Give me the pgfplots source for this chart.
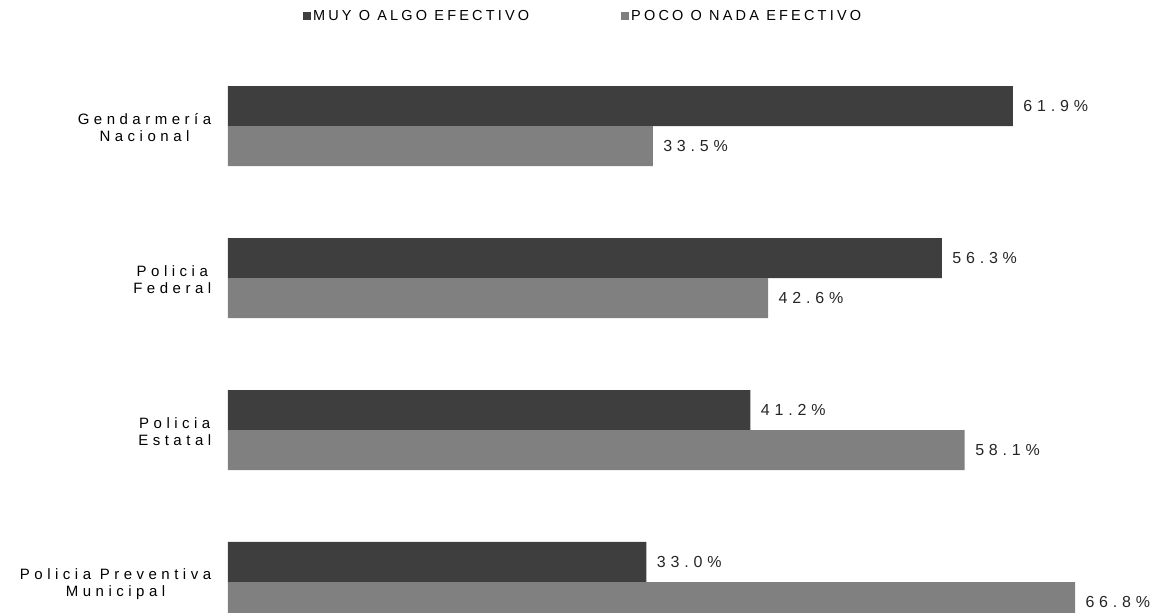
\documentclass[border=0pt]{standalone}
\usepackage{pgfplots}
\pgfplotsset{compat=1.18}
\usepackage{fontspec}
\setmainfont{Liberation Sans}
\newfontfamily\lblfont{Liberation Sans}[LetterSpace=30]
\newfontfamily\legfont{Liberation Sans}[LetterSpace=22]
\definecolor{darkbar}{HTML}{3E3E3E}
\definecolor{lightbar}{HTML}{808080}
\pgfplotstableread{
y muy poco
0 61.9 33.5
1 56.3 42.6
2 41.2 58.1
3 33.0 66.8
}\datatable
\begin{document}
\begin{tikzpicture}
\begin{axis}[
  scale only axis,
  width=942pt, height=613pt,
  xmin=0, xmax=74.29,
  ymin=-0.829, ymax=3.204,
  y dir=reverse,
  xbar, bar width=40pt,
  axis line style={draw=none},
  tick style={draw=none},
  xtick=\empty,
  ytick={0,1,2,3},
  yticklabels={{Gendarmería\\Nacional},{Policia\\Federal},{Policia\\Estatal},{Policia Preventiva\\Municipal}},
  yticklabel style={align=center, font=\fontsize{15}{17}\selectfont\lblfont, xshift=-9pt, yshift=-2pt},
  nodes near coords={\pgfmathprintnumber[fixed,fixed zerofill,precision=1]{\pgfplotspointmeta}\%},
  nodes near coords style={font=\fontsize{16}{18}\selectfont\lblfont, anchor=west, xshift=7pt, text=black!85},
  /pgf/number format/assume math mode=true,
  point meta=explicit,
  legend columns=2,
  legend style={draw=none, fill=none, at={(axis cs:5.9,-0.725)}, anchor=west,
    font=\fontsize{14.5}{16}\selectfont\legfont, inner sep=0pt,
    /tikz/every even column/.append style={column sep=90pt},
    legend cell align=left},
  legend image code/.code={\fill[#1] (0pt,-4pt) rectangle (8pt,4pt);},
  clip=true,
]
\addplot[fill=darkbar, draw=none, bar shift=20pt] table[x=muy, y=y, meta=muy] {\datatable};
\addplot[fill=lightbar, draw=none, bar shift=-20pt] table[x=poco, y=y, meta=poco] {\datatable};
\legend{MUY O ALGO EFECTIVO, POCO O NADA EFECTIVO}
\coordinate (BL) at (rel axis cs:0,0);
\coordinate (TR) at (rel axis cs:1,1);
\end{axis}
\pgfresetboundingbox
\path ([xshift=-228pt]BL) rectangle (TR);
\end{tikzpicture}
\end{document}
